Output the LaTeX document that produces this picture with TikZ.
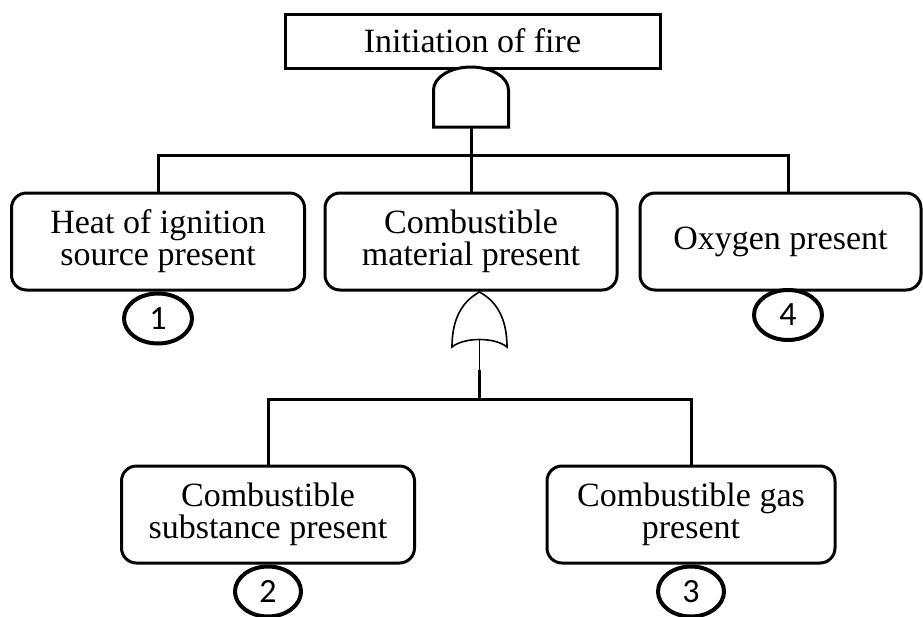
\documentclass[tikz,border=0pt]{standalone}
\usepackage{fontspec}
\setmainfont{Liberation Serif}
\newfontfamily\numfont{Carlito}
\usetikzlibrary{positioning, shapes.geometric}

\begin{document}
\begin{tikzpicture}[
  x=0.5pt, y=-0.5pt,
  font=\fontsize{17}{16}\selectfont,
  topevent/.style={draw, line width=1.5pt, minimum width=187.5pt, minimum height=27pt, inner sep=0pt},
  event/.style={draw, line width=1.5pt, rounded corners=7.5pt, minimum height=48.5pt, align=center, inner sep=0pt},
  basic/.style={ellipse, draw, line width=2pt, minimum width=34pt, minimum height=25pt, inner sep=0pt, font=\numfont\fontsize{17}{17}\selectfont},
  wire/.style={line width=1.5pt},
  thinwire/.style={line width=0.8pt},
  andgate/.style={draw, line width=1.5pt, fill=white},
  orgate/.style={draw, line width=0.8pt, fill=white}
]
\useasboundingbox (0,0) rectangle (923,617);

% --- Top event ---
\node[topevent] (fire) at (472.5,41) {Initiation of fire};

% --- AND gate ---
\draw[andgate] (433.5,127) -- (433.5,90) arc[start angle=180, end angle=360, x radius=37.5, y radius=23] -- (508.5,127) -- cycle;
\coordinate (andout) at (471,127);

% --- Intermediate events ---
\node[event, minimum width=146.5pt] (heat) at (158,241.5) {Heat of ignition\\source present};
\node[event, minimum width=146pt] (material) at (471,241.5) {Combustible\\material present};
\node[event, minimum width=140.5pt] (oxygen) at (780.5,241.5) {Oxygen present};

\node[basic, below=0pt of heat] (b1) {1};
\node[basic] (b4) at (788,315) {4};

\coordinate (andbar) at (471,155);
\draw[wire] (andout) -- (material.north);
\draw[wire] (heat.north) |- (andbar) -| (b4 |- oxygen.north);

% --- OR gate ---
\draw[orgate] (452,347) .. controls (452,315) and (465,300) .. (479.5,292) .. controls (494,300) and (507,315) .. (507,347) .. controls (495,337) and (464,337) .. cycle;
\coordinate (orout) at (479.5,340);
\coordinate (orstem) at (479.5,370);
\coordinate (orbar) at (479.5,399);

% --- Basic events ---
\node[event, minimum width=146.5pt] (substance) at (268,514.5) {Combustible\\substance present};
\node[event, minimum width=144pt] (gas) at (691,514.5) {Combustible gas\\present};

\node[basic, minimum width=33pt, below=0pt of substance] (b2) {2};
\node[basic, minimum width=33pt, below=0pt of gas] (b3) {3};

\draw[thinwire] (orout) -- (orstem);
\draw[wire] (orstem) -- (orbar);
\draw[wire] (substance.north) |- (orbar) -| (gas.north);

\end{tikzpicture}
\end{document}
